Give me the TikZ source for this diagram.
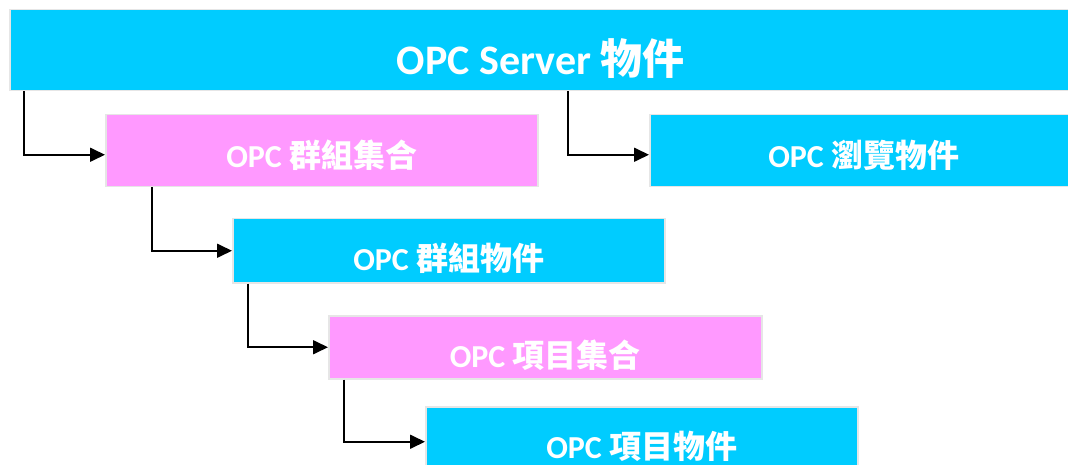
\documentclass[tikz,border=0pt]{standalone}
\usepackage{fontspec}
\setmainfont{Carlito}
\newfontfamily\cjk{Noto Sans CJK TC}
\usepackage{xcolor}
\usepackage{tikz}
\usetikzlibrary{arrows.meta,positioning}
\definecolor{OpcCyan}{HTML}{00CCFF}
\definecolor{OpcPink}{HTML}{FF99FF}
\definecolor{OpcEdge}{HTML}{E6E6E6}
\tikzset{
  objbox/.style={draw=OpcEdge,line width=1.5pt,fill=OpcCyan,anchor=north west,
    inner sep=0pt,text=white,font=\bfseries\fontsize{32}{36}\selectfont,
    text height=48pt,text depth=8pt},
  collbox/.style={objbox,fill=OpcPink},
  flow/.style={-{Triangle[length=15pt,width=14pt]},line width=1.7pt,draw=black}
}
\begin{document}
\begin{tikzpicture}[x=1pt,y=-1pt]
  \useasboundingbox (0,0) rectangle (1068,465);
  \node[objbox,minimum width=1062pt,minimum height=81pt,
    font=\bfseries\fontsize{42}{48}\selectfont,text height=56pt,text depth=8pt]
    (server) at (9,9) {OPC Server {\cjk 物件}};
  \node[collbox,minimum width=432pt,minimum height=72pt,text height=44pt,text depth=10pt]
    (grpcoll) at (105,114) {OPC {\cjk 群組集合}};
  \node[objbox,minimum width=428pt,minimum height=72pt,text height=44pt,text depth=10pt]
    (browse) at (649,114) {OPC {\cjk 瀏覽物件}};
  \node[objbox,minimum width=432pt,minimum height=64pt] (grpobj) at (232,218) {OPC {\cjk 群組物件}};
  \node[collbox,minimum width=433pt,minimum height=63pt] (itemcoll) at (328,315) {OPC {\cjk 項目集合}};
  \node[objbox,minimum width=432pt,minimum height=64pt] (itemobj) at (425,406) {OPC {\cjk 項目物件}};
  \draw[flow] ([xshift=15pt]server.south west) |- ([yshift=-4pt]grpcoll.west);
  \draw[flow] ([xshift=559pt]server.south west) |- ([yshift=-4pt]browse.west);
  \draw[flow] ([xshift=47pt]grpcoll.south west) |- (grpobj.west);
  \draw[flow] ([xshift=16pt]grpobj.south west) |- (itemcoll.west);
  \draw[flow] ([xshift=16pt]itemcoll.south west) |- ([yshift=-3pt]itemobj.west);
\end{tikzpicture}
\end{document}
